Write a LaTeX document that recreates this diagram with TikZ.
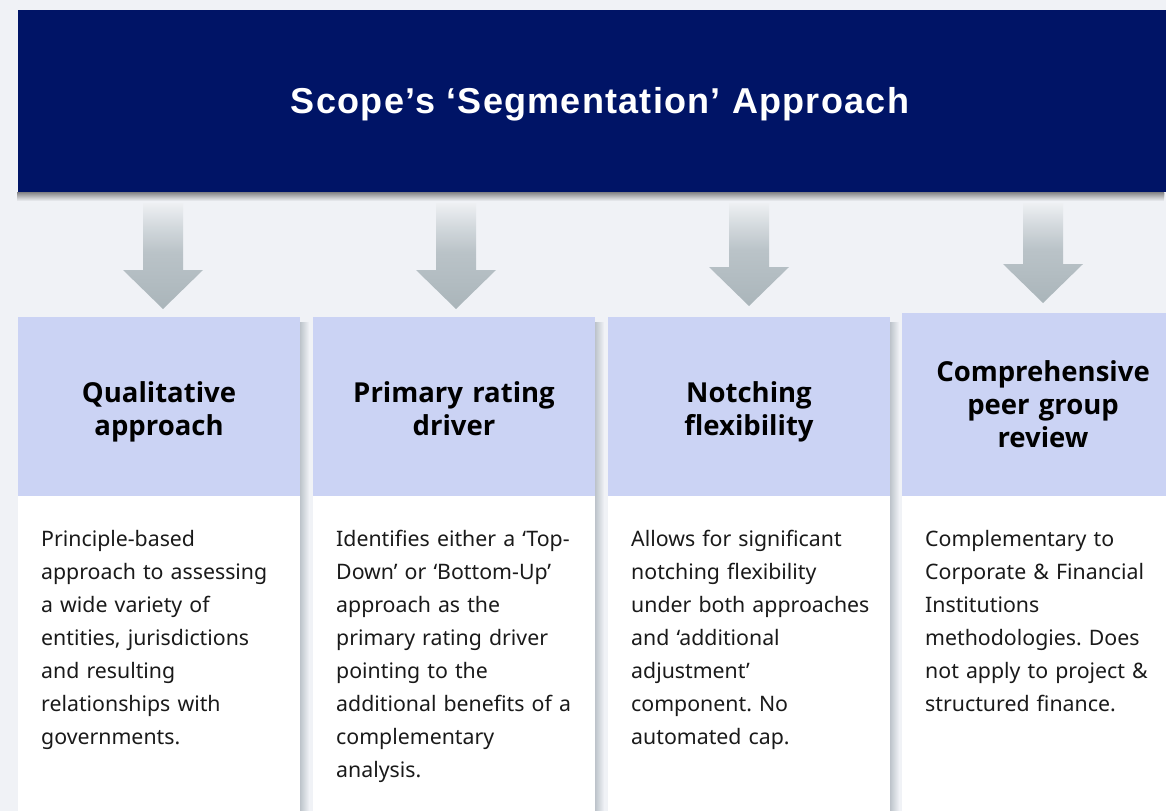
\documentclass[tikz,border=0pt]{standalone}
\usepackage{fontspec}
\setmainfont{Noto Sans}
\newfontfamily\titlefont{Liberation Sans}[LetterSpace=3.5]
\newfontfamily\hdrfont{Open Sans}
\usetikzlibrary{fadings}
\frenchspacing
\definecolor{bg}{HTML}{F0F2F6}
\definecolor{navy}{HTML}{001466}
\definecolor{hdr}{HTML}{CBD3F4}
\definecolor{txt}{HTML}{1A1A1A}
\definecolor{ashT}{HTML}{EEF0F3}
\definecolor{ashL}{HTML}{D3D9DD}
\definecolor{ashM}{HTML}{BAC3C8}
\definecolor{ashB}{HTML}{AAB5BA}
\definecolor{shade}{HTML}{A7B0B8}
\pgfdeclareverticalshading{arrowshade}{100bp}{color(0bp)=(ashB); color(25bp)=(ashB); color(52bp)=(ashM); color(64bp)=(ashL); color(75bp)=(ashT); color(100bp)=(ashT)}
\tikzfading[name=fadedown, top color=transparent!55, bottom color=transparent!100]
\tikzfading[name=faderight, left color=transparent!30, right color=transparent!100]
\tikzset{
  hdrbox/.style={fill=hdr, inner sep=0pt, anchor=north west, minimum width=282pt},
  hdrtext/.style={anchor=base, inner sep=0pt, text width=270pt, align=center,
    text=black, font=\hdrfont\bfseries\fontsize{27.5}{33.3}\selectfont},
  bodybox/.style={fill=white, inner sep=0pt, anchor=north west, minimum width=282pt, minimum height=320pt},
  bodytext/.style={anchor=base west, inner sep=0pt, text width=270pt, align=left,
    text=txt, font=\fontsize{21.3}{33}\selectfont},
  blockarrow/.style={shading=arrowshade, draw=none},
  colshadow/.style={fill=shade, path fading=faderight},
}
\begin{document}
\begin{tikzpicture}[x=1pt,y=-1pt]
\fill[bg] (0,0) rectangle (1166,811);
\useasboundingbox (0,0) rectangle (1166,811);
% banner shadow and banner
\fill[shade, path fading=fadedown] (18,192) rectangle (1166,201);
\node[fill=navy, inner sep=0pt, anchor=north west, minimum width=1148pt, minimum height=182pt] (banner) at (18,10) {};
\node[anchor=base, text=white, font=\titlefont\bfseries\fontsize{36}{42}\selectfont] (title) at (600,113) {Scope’s ‘Segmentation’ Approach};
% column shadows
\foreach \x in {300, 595, 890}{
  \fill[colshadow] (\x,322) rectangle (\x+9,811);
}
% headers
\node[hdrbox, minimum height=179pt] (h1) at (18,317) {};
\node[hdrbox, minimum height=179pt] (h2) at (313,317) {};
\node[hdrbox, minimum height=179pt] (h3) at (608,317) {};
\node[hdrbox, minimum height=183pt] (h4) at (902,313) {};
\node[hdrtext] (t1) at (159,402) {Qualitative\\approach};
\node[hdrtext] (t2) at (454,402) {Primary rating\\driver};
\node[hdrtext] (t3) at (749,402) {Notching\\flexibility};
\node[hdrtext] (t4) at (1043,381) {Comprehensive\\peer group\\review};
% bodies
\node[bodybox] (w1) at (18,496) {};
\node[bodybox] (w2) at (313,496) {};
\node[bodybox] (w3) at (608,496) {};
\node[bodybox] (w4) at (902,496) {};
\node[bodytext] (b1) at (41,546) {Principle-based\\approach to assessing\\a wide variety of\\entities, jurisdictions\\and resulting\\relationships with\\governments.};
\node[bodytext] (b2) at (336,546) {Identifies either a ‘Top-\\Down’ or ‘Bottom-Up’\\approach as the\\primary rating driver\\pointing to the\\additional benefits of a\\complementary\\analysis.};
\node[bodytext] (b3) at (631,546) {Allows for significant\\notching flexibility\\under both approaches\\and ‘additional\\adjustment’\\component. No\\automated cap.};
\node[bodytext] (b4) at (925,546) {Complementary to\\Corporate \& Financial\\Institutions\\methodologies. Does\\not apply to project \&\\structured finance.};
% block arrows from banner towards headers
\foreach \cx/\ty in {163/309, 456/309, 749/306, 1043/303}{
  \path[blockarrow] (\cx-20,203) -- (\cx+20,203) -- (\cx+20,\ty-39) -- (\cx+40,\ty-39)
    -- (\cx,\ty) -- (\cx-40,\ty-39) -- (\cx-20,\ty-39) -- cycle;
}
\end{tikzpicture}
\end{document}
